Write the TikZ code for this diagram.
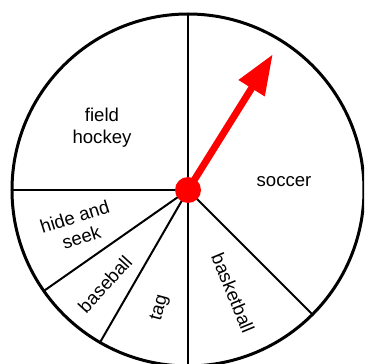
\documentclass[tikz,border=0pt]{standalone}
\usepackage{fontspec}
\setmainfont{Liberation Sans}
\usetikzlibrary{arrows.meta}
\begin{document}
\begin{tikzpicture}[x=1pt,y=1pt,
  spoke/.style={line width=2pt,black},
  rim/.style={line width=3pt,black},
  lbl/.style={font=\fontsize{18.6}{22}\selectfont,align=center,inner sep=0pt},
  pointer/.style={line width=7pt,red,-{Triangle[length=40pt,width=29pt]}}]
\useasboundingbox (-188,-174) rectangle (176,190);
\clip (-188,-174) rectangle (176,190);
\fill[white] (-188,-174) rectangle (176,190);
\coordinate (c) at (0,0);
\foreach \a/\n in {90/p1,180/p2,215/p3,240/p4,270/p5,315/p6}
  \coordinate (\n) at (\a:176);
\foreach \n in {p1,p2,p3,p4,p5,p6}
  \draw[spoke] (c) -- (\n);
\draw[rim] (c) circle[radius=176];
\node[lbl] (soccer) at (96,8) {soccer};
\node[lbl] (fh) at (-86,62) {field\\hockey};
\node[lbl,rotate=17.5] (hs) at (-110,-37) {hide and\\seek};
\node[lbl,rotate=47.5] (bsb) at (-83,-94) {baseball};
\node[lbl,rotate=75] (tag) at (-28,-118) {tag};
\node[lbl,rotate=-67.5] (bkb) at (45,-103) {basketball};
\coordinate (tip) at (58:160);
\draw[pointer] (c) -- (tip);
\fill[red] (c) circle[radius=13];
\end{tikzpicture}
\end{document}
